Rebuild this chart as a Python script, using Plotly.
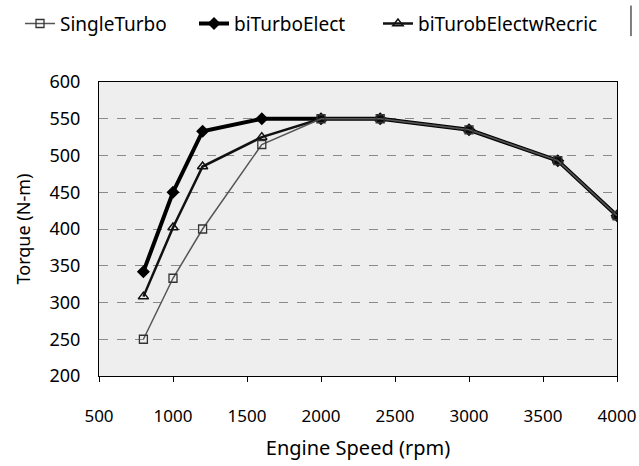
import plotly.graph_objects as go

rpm = [800, 1000, 1200, 1600, 2000, 2400, 3000, 3600, 4000]
single_turbo = [250, 333, 400, 515, 550, 550, 535, 493, 418]
bi_turbo_elect = [342, 450, 533, 550, 550, 550, 535, 493, 418]
bi_turbo_elect_recirc = [308, 402, 485, 525, 550, 550, 535, 493, 418]

x_ticks = [500, 1000, 1500, 2000, 2500, 3000, 3500, 4000]
y_ticks = [200, 250, 300, 350, 400, 450, 500, 550, 600]

FONT = "Noto Sans"

fig = go.Figure()
# drawn first so the thinner series sit on top of it
fig.add_trace(go.Scatter(
    x=rpm, y=bi_turbo_elect, name="biTurboElect", mode="lines+markers",
    legend="legend2", showlegend=True,
    line=dict(color="#000000", width=4),
    marker=dict(symbol="diamond", size=10, color="#000000"),
))
fig.add_trace(go.Scatter(
    x=rpm, y=bi_turbo_elect_recirc, name="biTurobElectwRecric", mode="lines+markers",
    legend="legend3", showlegend=True,
    line=dict(color="#111111", width=2.5),
    marker=dict(symbol="triangle-up-open", size=9, color="#111111", line=dict(width=1.5)),
))
fig.add_trace(go.Scatter(
    x=rpm, y=single_turbo, name="SingleTurbo", mode="lines+markers",
    legend="legend", showlegend=True,
    line=dict(color="#555555", width=1.5),
    marker=dict(symbol="square-open", size=8, color="#333333", line=dict(width=1.3)),
))


def legend_at(xfrac):
    return dict(
        visible=True,
        orientation="h", xref="container", yref="container",
        x=xfrac, y=0.99, xanchor="left", yanchor="top",
        font=dict(family=FONT, size=19, color="black"),
        bgcolor="rgba(0,0,0,0)",
    )


fig.update_layout(
    width=639, height=466,
    showlegend=True,
    margin=dict(l=99, r=22, t=82, b=90, autoexpand=False),
    paper_bgcolor="white",
    plot_bgcolor="#eeeeee",
    font=dict(family=FONT, size=18, color="black"),
    legend=legend_at(0.0313),
    legend2=legend_at(0.3036),
    legend3=legend_at(0.5915),
    xaxis=dict(
        range=[500, 4000], tickvals=x_ticks, automargin=False,
        ticks="outside", ticklen=5, tickcolor="black",
        ticklabelstandoff=20,
        tickfont=dict(size=17),
        showline=True, linecolor="black", linewidth=1, mirror=True,
        showgrid=False, zeroline=False,
        title=dict(text="Engine Speed (rpm)", font=dict(size=20), standoff=14),
    ),
    yaxis=dict(
        range=[200, 600], tickvals=y_ticks, automargin=False,
        ticks="", ticklabelstandoff=14,
        tickfont=dict(size=18),
        showline=True, linecolor="black", linewidth=1, mirror=True,
        showgrid=True, gridcolor="#8a8a8a", gridwidth=1, griddash="dash",
        zeroline=False,
        title=dict(text="Torque (N-m)", font=dict(size=18), standoff=14),
    ),
    shapes=[dict(type="line", xref="paper", yref="paper",
                 x0=1.027, x1=1.027, y0=1.156, y1=1.26,
                 line=dict(color="black", width=1))],
)

fig.write_html("out.html",
               config={"displayModeBar": False},
               post_script="document.body.style.margin='0';document.body.style.padding='0';")
